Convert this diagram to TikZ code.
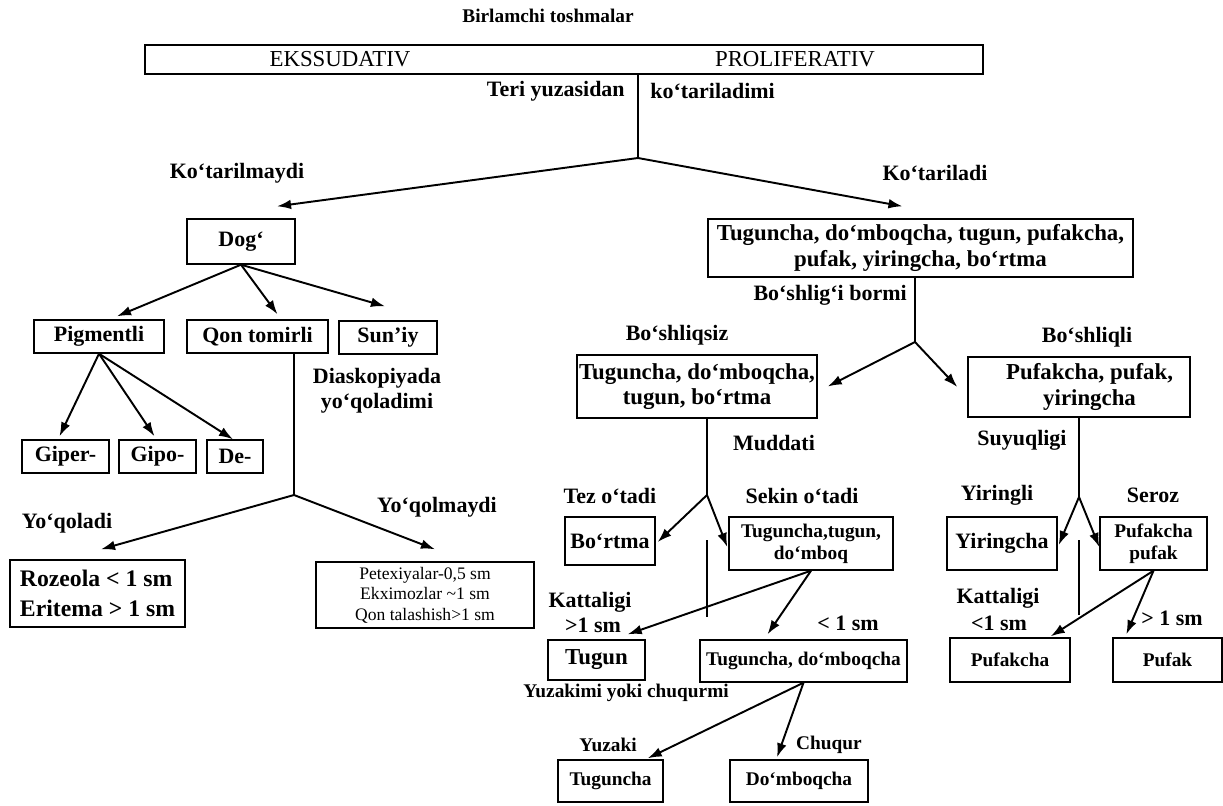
\documentclass[tikz,border=0pt]{standalone}
\usepackage{fontspec}
\setmainfont{Liberation Serif}
\usetikzlibrary{arrows.meta,calc}
\tikzset{
  lbl/.style={font=\bfseries\fontsize{12.5}{14}\selectfont, inner sep=0pt, align=center},
  lbls/.style={lbl, font=\bfseries\fontsize{11}{12.5}\selectfont},
  box/.style={draw, line width=0.8pt, lbl},
  boxs/.style={box, font=\bfseries\fontsize{11}{12.5}\selectfont},
  boxl/.style={box, font=\bfseries\fontsize{13}{14.5}\selectfont},
  wh/.style 2 args={minimum width=#1*0.02cm, minimum height=#2*0.02cm},
  arr/.style={-{Latex[length=8pt,width=5.5pt]}, line width=1.1pt},
  stem/.style={line width=0.8pt},
}
\begin{document}
\begin{tikzpicture}[x=0.02cm, y=-0.02cm]
\useasboundingbox (0,0) rectangle (1223,805);
\node[lbls] (title) at (548,16) {Birlamchi toshmalar};
\node[box, wh={838}{29}] (top) at (564,59.5) {};
\node[lbl, font=\fontsize{13}{14}\selectfont] (eks) at (340,59) {EKSSUDATIV};
\node[lbl, font=\fontsize{13}{14}\selectfont] (pro) at (795,59) {PROLIFERATIV};
\coordinate (a1) at (638,158);
\draw[stem] (top.south -| a1) -- (a1);
\node[lbl, anchor=east] (teri) at (625,91) {Teri yuzasidan};
\node[lbl, anchor=west] (kot) at (650,91) {ko‘tariladimi};
\node[lbl] (ktm) at (237,173) {Ko‘tarilmaydi};
\node[lbl] (ktl) at (935,173) {Ko‘tariladi};

\node[box, wh={108}{45}] (dog) at (241,241.5) {Dog‘};
\node[boxl, wh={425}{58}] (big) at (920.5,248) {Tuguncha, do‘mboqcha, tugun, pufakcha,\\ pufak, yiringcha, bo‘rtma};
\draw[arr] (a1) -- ($(dog.north)+(36,-12)$);
\draw[arr] (a1) -- ($(big.north)+(-18,-12)$);

\node[box, wh={130}{33}] (pig) at (99,336.5) {Pigmentli};
\node[box, wh={141}{33}] (qon) at (257.5,336.5) {Qon tomirli};
\node[box, wh={98}{33}] (sun) at (388,337.5) {Sun’iy};
\draw[arr] (dog.south) -- ($(pig.north)+(18,-3)$);
\draw[arr] (dog.south) -- ($(qon.north)+(20,-5)$);
\draw[arr] (dog.south) -- ($(sun.north)+(-3,-14)$);
\node[lbl] (dia) at (377,391) {Diaskopiyada\\ yo‘qoladimi};

\node[box, wh={87}{33}] (giper) at (65.5,456.5) {Giper-};
\node[box, wh={77}{33}] (gipo) at (157.5,456.5) {Gipo-};
\node[box, wh={56}{33}] (de) at (235,456.5) {De-};
\draw[arr] (pig.south) -- ($(giper.north)+(-6,-3)$);
\draw[arr] (pig.south) -- ($(gipo.north)+(-3,-3)$);
\draw[arr] (pig.south) -- ($(de.north)+(-2,0)$);

\coordinate (a2) at (294,495);
\draw[stem] (qon.south -| a2) -- (a2);
\node[lbl] (yoq) at (67,523) {Yo‘qoladi};
\node[lbl] (yoqm) at (437,507) {Yo‘qolmaydi};
\node[box, wh={175}{67}, align=left, font=\bfseries\fontsize{13.5}{17}\selectfont] (roz) at (97.5,593.5) {Rozeola < 1 sm\\ Eritema > 1 sm};
\node[box, wh={218}{66}, font=\fontsize{10}{11.6}\selectfont] (pet) at (425,595) {Petexiyalar-0,5 sm\\ Ekximozlar \textasciitilde1 sm\\ Qon talashish>1 sm};
\draw[arr] (a2) -- ($(roz.north)+(3.5,-10)$);
\draw[arr] (a2) -- ($(pet.north)+(10,-12)$);

\coordinate (a3) at (915,342);
\draw[stem] (big.south -| a3) -- (a3);
\node[lbl, anchor=east] (bor) at (907,295) {Bo‘shlig‘i bormi};
\node[lbl] (bsiz) at (677,335) {Bo‘shliqsiz};
\node[lbl] (bli) at (1087,337) {Bo‘shliqli};
\node[boxl, wh={240}{63}] (bsz) at (697,386.5) {Tuguncha, do‘mboqcha,\\ tugun, bo‘rtma};
\node[boxl, wh={222}{60}] (bsl) at (1079,387) {\hspace*{12pt}Pufakcha, pufak,\\ \hspace*{12pt}yiringcha};
\draw[arr] (a3) -- ($(bsz.east)+(10,0)$);
\draw[arr] (a3) -- ($(bsl.west)+(-10,0)$);

\coordinate (a4) at (707,495);
\coordinate (a5) at (1079,497);
\draw[stem] (bsz.south -| a4) -- (a4);
\draw[stem] (bsl.south -| a5) -- (a5);
\node[lbl] (mud) at (774,443) {Muddati};
\node[lbl] (suy) at (1022,440) {Suyuqligi};
\node[lbl] (tez) at (610,496) {Tez o‘tadi};
\node[lbl] (sek) at (802,496) {Sekin o‘tadi};
\node[lbl] (yirl) at (997,495) {Yiringli};
\node[lbl] (ser) at (1153,495) {Seroz};

\node[box, wh={90}{48}] (bort) at (610,541) {Bo‘rtma};
\node[boxs, wh={164}{53}] (tt) at (811,543.5) {Tuguncha,tugun,\\ do‘mboq};
\node[box, wh={110}{53}] (yir) at (1002,543.5) {Yiringcha};
\node[boxs, wh={107}{53}] (pp) at (1153.5,543.5) {Pufakcha\\ pufak};
\draw[arr] (a4) -- ($(bort.east)+(2,1)$);
\draw[arr] (a4) -- ($(tt.west)+(-1,3.5)$);
\draw[arr] (a5) -- ($(yir.east)+(1,1.5)$);
\draw[arr] (a5) -- ($(pp.west)+(0,3.5)$);
\coordinate (s1) at (707,540);
\coordinate (s2) at (707,617);
\coordinate (s3) at (1079,540);
\coordinate (s4) at (1079,615);
\draw[stem] (s1) -- (s2);
\draw[stem] (s3) -- (s4);

\node[lbl] (kat1) at (590,602) {Kattaligi};
\node[lbl] (gt1) at (593,625) {>1 sm};
\node[lbl] (lt1) at (848,623) {< 1 sm};
\node[lbl] (kat2) at (998,598) {Kattaligi};
\node[lbl] (lt2) at (999,623) {<1 sm};
\node[lbl] (gt2) at (1172,618) {> 1 sm};

\node[boxl, wh={97}{40}] (tugun) at (596.5,660) {Tugun};
\node[boxs, wh={207}{42}] (tdq) at (803.5,661) {Tuguncha, do‘mboqcha};
\node[boxs, wh={120}{44}] (pufc) at (1010,660) {Pufakcha};
\node[boxs, wh={109}{44}] (puf) at (1167.5,660) {Pufak};
\draw[arr] (tt.south) -- ($(tugun.north east)+(-18,-5)$);
\draw[arr] (tt.south) -- ($(tdq.north)+(-36,-5)$);
\draw[arr] (pp.south) -- ($(pufc.north east)+(-20,-1)$);
\draw[arr] (pp.south) -- ($(puf.north west)+(14,-3)$);

\node[lbls] (yuz) at (626,693) {Yuzakimi yoki chuqurmi};
\node[lbls] (yuzk) at (608,745) {Yuzaki};
\node[lbls] (chq) at (829,745) {Chuqur};
\node[boxs, wh={105}{42}] (tgc) at (610.5,781) {Tuguncha};
\node[boxs, wh={138}{42}] (dmb) at (799,781) {Do‘mboqcha};
\draw[arr] (tdq.south) -- ($(tgc.north east)+(-16,-1)$);
\draw[arr] (tdq.south) -- ($(dmb.north)+(-22,-2)$);
\end{tikzpicture}
\end{document}
